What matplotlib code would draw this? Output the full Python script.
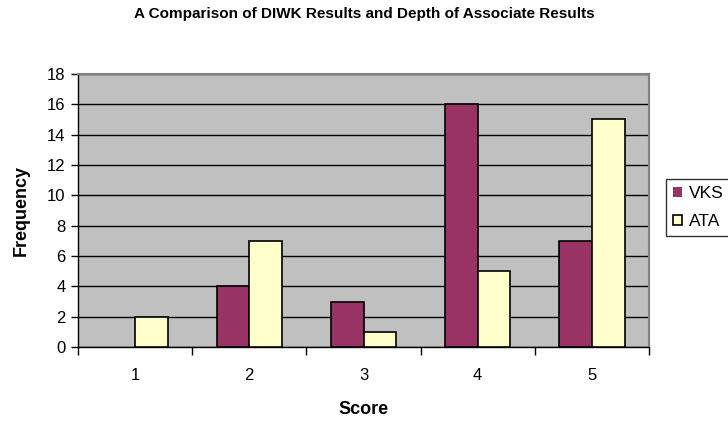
import matplotlib
matplotlib.use("Agg")
import matplotlib.pyplot as plt
import numpy as np

plt.rcParams['font.family'] = ['Liberation Sans', 'DejaVu Sans']

scores = ["1", "2", "3", "4", "5"]
vks = [0, 4, 3, 16, 7]
ata = [2, 7, 1, 5, 15]
series_names = ["VKS", "ATA"]
colors = ["#993366", "#FFFFCC"]
yticks = [0, 2, 4, 6, 8, 10, 12, 14, 16, 18]

fig = plt.figure(figsize=(7.28, 4.21), dpi=100)
ax = fig.add_axes([78/728, 1-347/421, 571/728, 273/421])
ax.set_facecolor("#C0C0C0")

x = np.arange(len(scores))
w = 1/3.5


def edge_widths(values):
    # zero-height bars are not outlined
    return [1.2 if v > 0 else 0 for v in values]


bars1 = ax.bar(x - w/2, vks, w, color=colors[0], edgecolor="black",
               linewidth=edge_widths(vks), label=series_names[0], zorder=3)
bars2 = ax.bar(x + w/2, ata, w, color=colors[1], edgecolor="black",
               linewidth=edge_widths(ata), label=series_names[1], zorder=3)

ax.set_xlim(-0.5, len(scores) - 0.5)
ax.set_ylim(0, 18)
ax.set_yticks(yticks)
ax.yaxis.grid(True, color="black", linewidth=1.0, zorder=0)
ax.set_axisbelow(True)

# category labels centred, tick marks on the boundaries
ax.set_xticks(np.arange(-0.5, len(scores)), minor=False)
ax.set_xticklabels([])
ax.set_xticks(x, minor=True)
ax.set_xticklabels(scores, minor=True)
ax.tick_params(axis="x", which="minor", length=0, pad=15, labelsize=12)
ax.tick_params(axis="x", which="major", length=6, width=1, direction="out")
ax.tick_params(axis="y", length=5, width=1, direction="out", labelsize=12, pad=4)

for s in ["top", "right"]:
    ax.spines[s].set_color("#808080")
    ax.spines[s].set_linewidth(1.5)
for s in ["left", "bottom"]:
    ax.spines[s].set_color("black")
    ax.spines[s].set_linewidth(1.0)

ax.set_xlabel("Score", fontsize=13, fontweight="bold", labelpad=13)
ax.set_ylabel("Frequency", fontsize=13, fontweight="bold", labelpad=12)

fig.text(364/728, 1-14/421, "A Comparison of DIWK Results and Depth of Associate Results",
         ha="center", va="center", fontsize=11, fontweight="bold")

leg = fig.legend(handles=[bars1, bars2], labels=series_names,
                 loc="upper left", bbox_to_anchor=(666/728, 1-179/421),
                 frameon=True, fancybox=False, shadow=False, fontsize=12.5,
                 handlelength=0.5, handleheight=0.5, handletextpad=0.4,
                 borderpad=0.4, labelspacing=0.75, borderaxespad=0)
leg.get_frame().set_edgecolor("black")
leg.get_frame().set_linewidth(1.0)

fig.savefig("out.png", dpi=100)
